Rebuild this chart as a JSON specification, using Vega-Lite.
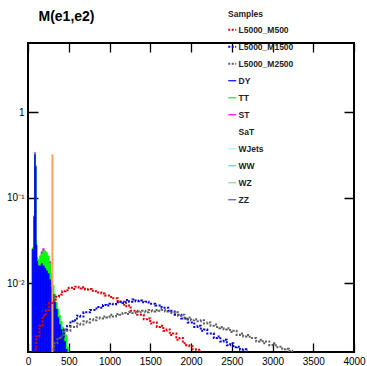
{
  "$schema": "https://vega.github.io/schema/vega-lite/v6.json",
  "width": 326,
  "height": 309,
  "autosize": {"type": "none"},
  "padding": {"left": 28, "top": 43, "right": 13, "bottom": 14},
  "background": "white",
  "config": {
    "view": {"stroke": "black", "strokeWidth": 2},
    "axis": {"domain": false, "ticks": false, "grid": true, "zindex": 1, "gridColor": "black", "gridOpacity": 1, "gridWidth": 1.3, "labelFont": "Liberation Sans", "labelFontSize": 10, "labelColor": "black", "title": null}
  },
  "datasets": {
    "bkg": [
      {"sample": "ST", "lo": 80, "hi": 90, "top": 0.34},
      {"sample": "ST", "lo": 90, "hi": 100, "top": 0.24},
      {"sample": "ST", "lo": 160, "hi": 180, "top": 0.0235},
      {"sample": "ST", "lo": 180, "hi": 200, "top": 0.0255},
      {"sample": "ST", "lo": 260, "hi": 280, "top": 0.018},
      {"sample": "TT", "lo": 50, "hi": 70, "top": 0.026},
      {"sample": "TT", "lo": 70, "hi": 80, "top": 0.062},
      {"sample": "TT", "lo": 80, "hi": 90, "top": 0.33},
      {"sample": "TT", "lo": 90, "hi": 100, "top": 0.235},
      {"sample": "TT", "lo": 100, "hi": 110, "top": 0.032},
      {"sample": "TT", "lo": 110, "hi": 120, "top": 0.02},
      {"sample": "TT", "lo": 120, "hi": 140, "top": 0.019},
      {"sample": "TT", "lo": 140, "hi": 160, "top": 0.021},
      {"sample": "TT", "lo": 160, "hi": 180, "top": 0.022},
      {"sample": "TT", "lo": 180, "hi": 200, "top": 0.024},
      {"sample": "TT", "lo": 200, "hi": 220, "top": 0.024},
      {"sample": "TT", "lo": 220, "hi": 240, "top": 0.023},
      {"sample": "TT", "lo": 240, "hi": 260, "top": 0.021},
      {"sample": "TT", "lo": 260, "hi": 280, "top": 0.017},
      {"sample": "TT", "lo": 280, "hi": 300, "top": 0.013},
      {"sample": "TT", "lo": 300, "hi": 320, "top": 0.0095},
      {"sample": "TT", "lo": 320, "hi": 340, "top": 0.0075},
      {"sample": "TT", "lo": 340, "hi": 360, "top": 0.006},
      {"sample": "TT", "lo": 360, "hi": 380, "top": 0.005},
      {"sample": "TT", "lo": 380, "hi": 400, "top": 0.0042},
      {"sample": "TT", "lo": 400, "hi": 420, "top": 0.0036},
      {"sample": "TT", "lo": 420, "hi": 440, "top": 0.0031},
      {"sample": "TT", "lo": 440, "hi": 460, "top": 0.0028},
      {"sample": "TT", "lo": 460, "hi": 480, "top": 0.0025},
      {"sample": "TT", "lo": 480, "hi": 500, "top": 0.0018},
      {"sample": "DY", "lo": 50, "hi": 70, "top": 0.025},
      {"sample": "DY", "lo": 70, "hi": 80, "top": 0.06},
      {"sample": "DY", "lo": 80, "hi": 90, "top": 0.32},
      {"sample": "DY", "lo": 90, "hi": 100, "top": 0.23},
      {"sample": "DY", "lo": 100, "hi": 110, "top": 0.028},
      {"sample": "DY", "lo": 110, "hi": 120, "top": 0.018},
      {"sample": "DY", "lo": 120, "hi": 140, "top": 0.016},
      {"sample": "DY", "lo": 140, "hi": 160, "top": 0.016},
      {"sample": "DY", "lo": 160, "hi": 180, "top": 0.017},
      {"sample": "DY", "lo": 180, "hi": 200, "top": 0.016},
      {"sample": "DY", "lo": 200, "hi": 220, "top": 0.015},
      {"sample": "DY", "lo": 220, "hi": 240, "top": 0.014},
      {"sample": "DY", "lo": 240, "hi": 260, "top": 0.013},
      {"sample": "DY", "lo": 260, "hi": 280, "top": 0.011},
      {"sample": "DY", "lo": 280, "hi": 300, "top": 0.009},
      {"sample": "DY", "lo": 300, "hi": 320, "top": 0.0075},
      {"sample": "DY", "lo": 320, "hi": 340, "top": 0.006},
      {"sample": "DY", "lo": 340, "hi": 360, "top": 0.005},
      {"sample": "DY", "lo": 360, "hi": 380, "top": 0.004},
      {"sample": "DY", "lo": 380, "hi": 400, "top": 0.0033},
      {"sample": "DY", "lo": 400, "hi": 420, "top": 0.0029},
      {"sample": "DY", "lo": 420, "hi": 440, "top": 0.0025},
      {"sample": "DY", "lo": 440, "hi": 460, "top": 0.0021},
      {"sample": "DY", "lo": 460, "hi": 480, "top": 0.0017}
    ],
    "sig": [
      {"sample": "L5000_M500", "m": 80, "v": 0.0017},
      {"sample": "L5000_M500", "m": 120, "v": 0.0024},
      {"sample": "L5000_M500", "m": 160, "v": 0.0032},
      {"sample": "L5000_M500", "m": 200, "v": 0.0042},
      {"sample": "L5000_M500", "m": 240, "v": 0.0049},
      {"sample": "L5000_M500", "m": 280, "v": 0.0059},
      {"sample": "L5000_M500", "m": 320, "v": 0.0062},
      {"sample": "L5000_M500", "m": 360, "v": 0.0070},
      {"sample": "L5000_M500", "m": 400, "v": 0.0074},
      {"sample": "L5000_M500", "m": 440, "v": 0.0081},
      {"sample": "L5000_M500", "m": 480, "v": 0.0083},
      {"sample": "L5000_M500", "m": 520, "v": 0.0089},
      {"sample": "L5000_M500", "m": 560, "v": 0.0086},
      {"sample": "L5000_M500", "m": 600, "v": 0.0091},
      {"sample": "L5000_M500", "m": 640, "v": 0.0087},
      {"sample": "L5000_M500", "m": 680, "v": 0.0090},
      {"sample": "L5000_M500", "m": 720, "v": 0.0085},
      {"sample": "L5000_M500", "m": 760, "v": 0.0086},
      {"sample": "L5000_M500", "m": 800, "v": 0.0082},
      {"sample": "L5000_M500", "m": 840, "v": 0.0081},
      {"sample": "L5000_M500", "m": 880, "v": 0.0078},
      {"sample": "L5000_M500", "m": 920, "v": 0.0076},
      {"sample": "L5000_M500", "m": 960, "v": 0.0072},
      {"sample": "L5000_M500", "m": 1000, "v": 0.0072},
      {"sample": "L5000_M500", "m": 1040, "v": 0.0067},
      {"sample": "L5000_M500", "m": 1080, "v": 0.0067},
      {"sample": "L5000_M500", "m": 1120, "v": 0.0061},
      {"sample": "L5000_M500", "m": 1160, "v": 0.0061},
      {"sample": "L5000_M500", "m": 1200, "v": 0.0054},
      {"sample": "L5000_M500", "m": 1240, "v": 0.0055},
      {"sample": "L5000_M500", "m": 1280, "v": 0.0048},
      {"sample": "L5000_M500", "m": 1320, "v": 0.0048},
      {"sample": "L5000_M500", "m": 1360, "v": 0.0043},
      {"sample": "L5000_M500", "m": 1400, "v": 0.0043},
      {"sample": "L5000_M500", "m": 1440, "v": 0.0038},
      {"sample": "L5000_M500", "m": 1480, "v": 0.0039},
      {"sample": "L5000_M500", "m": 1520, "v": 0.0034},
      {"sample": "L5000_M500", "m": 1560, "v": 0.0035},
      {"sample": "L5000_M500", "m": 1600, "v": 0.0031},
      {"sample": "L5000_M500", "m": 1640, "v": 0.0032},
      {"sample": "L5000_M500", "m": 1680, "v": 0.0028},
      {"sample": "L5000_M500", "m": 1720, "v": 0.0029},
      {"sample": "L5000_M500", "m": 1760, "v": 0.0025},
      {"sample": "L5000_M500", "m": 1800, "v": 0.0026},
      {"sample": "L5000_M500", "m": 1840, "v": 0.0022},
      {"sample": "L5000_M500", "m": 1880, "v": 0.0023},
      {"sample": "L5000_M500", "m": 1920, "v": 0.0020},
      {"sample": "L5000_M500", "m": 1960, "v": 0.0019},
      {"sample": "L5000_M500", "m": 2000, "v": 0.00185},
      {"sample": "L5000_M500", "m": 2040, "v": 0.0017},
      {"sample": "L5000_M500", "m": 2080, "v": 0.00168},
      {"sample": "L5000_M500", "m": 2120, "v": 0.0016},
      {"sample": "L5000_M1500", "m": 420, "v": 0.0024},
      {"sample": "L5000_M1500", "m": 460, "v": 0.0029},
      {"sample": "L5000_M1500", "m": 500, "v": 0.0032},
      {"sample": "L5000_M1500", "m": 540, "v": 0.0036},
      {"sample": "L5000_M1500", "m": 580, "v": 0.0037},
      {"sample": "L5000_M1500", "m": 620, "v": 0.0042},
      {"sample": "L5000_M1500", "m": 660, "v": 0.0041},
      {"sample": "L5000_M1500", "m": 700, "v": 0.0046},
      {"sample": "L5000_M1500", "m": 740, "v": 0.0046},
      {"sample": "L5000_M1500", "m": 780, "v": 0.0049},
      {"sample": "L5000_M1500", "m": 820, "v": 0.0049},
      {"sample": "L5000_M1500", "m": 860, "v": 0.0053},
      {"sample": "L5000_M1500", "m": 900, "v": 0.0052},
      {"sample": "L5000_M1500", "m": 940, "v": 0.0056},
      {"sample": "L5000_M1500", "m": 980, "v": 0.0055},
      {"sample": "L5000_M1500", "m": 1020, "v": 0.0058},
      {"sample": "L5000_M1500", "m": 1060, "v": 0.0057},
      {"sample": "L5000_M1500", "m": 1100, "v": 0.0060},
      {"sample": "L5000_M1500", "m": 1140, "v": 0.0061},
      {"sample": "L5000_M1500", "m": 1180, "v": 0.0059},
      {"sample": "L5000_M1500", "m": 1220, "v": 0.0064},
      {"sample": "L5000_M1500", "m": 1260, "v": 0.0061},
      {"sample": "L5000_M1500", "m": 1300, "v": 0.0065},
      {"sample": "L5000_M1500", "m": 1340, "v": 0.0062},
      {"sample": "L5000_M1500", "m": 1380, "v": 0.0063},
      {"sample": "L5000_M1500", "m": 1420, "v": 0.0060},
      {"sample": "L5000_M1500", "m": 1460, "v": 0.0061},
      {"sample": "L5000_M1500", "m": 1500, "v": 0.0058},
      {"sample": "L5000_M1500", "m": 1540, "v": 0.0058},
      {"sample": "L5000_M1500", "m": 1580, "v": 0.0055},
      {"sample": "L5000_M1500", "m": 1620, "v": 0.0055},
      {"sample": "L5000_M1500", "m": 1660, "v": 0.0052},
      {"sample": "L5000_M1500", "m": 1700, "v": 0.0052},
      {"sample": "L5000_M1500", "m": 1740, "v": 0.0048},
      {"sample": "L5000_M1500", "m": 1780, "v": 0.0047},
      {"sample": "L5000_M1500", "m": 1820, "v": 0.0043},
      {"sample": "L5000_M1500", "m": 1860, "v": 0.0043},
      {"sample": "L5000_M1500", "m": 1900, "v": 0.0039},
      {"sample": "L5000_M1500", "m": 1940, "v": 0.0039},
      {"sample": "L5000_M1500", "m": 1980, "v": 0.0035},
      {"sample": "L5000_M1500", "m": 2020, "v": 0.0035},
      {"sample": "L5000_M1500", "m": 2060, "v": 0.0031},
      {"sample": "L5000_M1500", "m": 2100, "v": 0.0032},
      {"sample": "L5000_M1500", "m": 2140, "v": 0.0028},
      {"sample": "L5000_M1500", "m": 2180, "v": 0.0029},
      {"sample": "L5000_M1500", "m": 2220, "v": 0.0026},
      {"sample": "L5000_M1500", "m": 2260, "v": 0.0026},
      {"sample": "L5000_M1500", "m": 2300, "v": 0.0023},
      {"sample": "L5000_M1500", "m": 2340, "v": 0.0024},
      {"sample": "L5000_M1500", "m": 2380, "v": 0.0021},
      {"sample": "L5000_M1500", "m": 2420, "v": 0.0022},
      {"sample": "L5000_M1500", "m": 2460, "v": 0.0019},
      {"sample": "L5000_M1500", "m": 2500, "v": 0.0020},
      {"sample": "L5000_M1500", "m": 2540, "v": 0.0018},
      {"sample": "L5000_M1500", "m": 2580, "v": 0.00182},
      {"sample": "L5000_M1500", "m": 2620, "v": 0.00168},
      {"sample": "L5000_M1500", "m": 2660, "v": 0.0017},
      {"sample": "L5000_M1500", "m": 2700, "v": 0.0016},
      {"sample": "L5000_M2500", "m": 300, "v": 0.0017},
      {"sample": "L5000_M2500", "m": 340, "v": 0.0020},
      {"sample": "L5000_M2500", "m": 380, "v": 0.0023},
      {"sample": "L5000_M2500", "m": 420, "v": 0.0024},
      {"sample": "L5000_M2500", "m": 460, "v": 0.0029},
      {"sample": "L5000_M2500", "m": 500, "v": 0.0028},
      {"sample": "L5000_M2500", "m": 540, "v": 0.0031},
      {"sample": "L5000_M2500", "m": 580, "v": 0.0031},
      {"sample": "L5000_M2500", "m": 620, "v": 0.0034},
      {"sample": "L5000_M2500", "m": 660, "v": 0.0033},
      {"sample": "L5000_M2500", "m": 700, "v": 0.0036},
      {"sample": "L5000_M2500", "m": 740, "v": 0.0035},
      {"sample": "L5000_M2500", "m": 780, "v": 0.0038},
      {"sample": "L5000_M2500", "m": 820, "v": 0.0037},
      {"sample": "L5000_M2500", "m": 860, "v": 0.0040},
      {"sample": "L5000_M2500", "m": 900, "v": 0.0039},
      {"sample": "L5000_M2500", "m": 940, "v": 0.0041},
      {"sample": "L5000_M2500", "m": 980, "v": 0.0040},
      {"sample": "L5000_M2500", "m": 1020, "v": 0.0043},
      {"sample": "L5000_M2500", "m": 1060, "v": 0.0041},
      {"sample": "L5000_M2500", "m": 1100, "v": 0.0044},
      {"sample": "L5000_M2500", "m": 1140, "v": 0.0043},
      {"sample": "L5000_M2500", "m": 1180, "v": 0.0045},
      {"sample": "L5000_M2500", "m": 1220, "v": 0.0044},
      {"sample": "L5000_M2500", "m": 1260, "v": 0.0046},
      {"sample": "L5000_M2500", "m": 1300, "v": 0.0045},
      {"sample": "L5000_M2500", "m": 1340, "v": 0.0047},
      {"sample": "L5000_M2500", "m": 1380, "v": 0.0046},
      {"sample": "L5000_M2500", "m": 1420, "v": 0.0048},
      {"sample": "L5000_M2500", "m": 1460, "v": 0.0046},
      {"sample": "L5000_M2500", "m": 1500, "v": 0.0049},
      {"sample": "L5000_M2500", "m": 1540, "v": 0.0047},
      {"sample": "L5000_M2500", "m": 1580, "v": 0.0049},
      {"sample": "L5000_M2500", "m": 1620, "v": 0.0048},
      {"sample": "L5000_M2500", "m": 1660, "v": 0.0049},
      {"sample": "L5000_M2500", "m": 1700, "v": 0.0047},
      {"sample": "L5000_M2500", "m": 1740, "v": 0.0048},
      {"sample": "L5000_M2500", "m": 1780, "v": 0.0045},
      {"sample": "L5000_M2500", "m": 1820, "v": 0.0046},
      {"sample": "L5000_M2500", "m": 1860, "v": 0.0042},
      {"sample": "L5000_M2500", "m": 1900, "v": 0.0043},
      {"sample": "L5000_M2500", "m": 1940, "v": 0.0039},
      {"sample": "L5000_M2500", "m": 1980, "v": 0.0040},
      {"sample": "L5000_M2500", "m": 2020, "v": 0.0037},
      {"sample": "L5000_M2500", "m": 2060, "v": 0.0038},
      {"sample": "L5000_M2500", "m": 2100, "v": 0.0036},
      {"sample": "L5000_M2500", "m": 2140, "v": 0.0037},
      {"sample": "L5000_M2500", "m": 2180, "v": 0.0034},
      {"sample": "L5000_M2500", "m": 2220, "v": 0.0035},
      {"sample": "L5000_M2500", "m": 2260, "v": 0.0032},
      {"sample": "L5000_M2500", "m": 2300, "v": 0.0033},
      {"sample": "L5000_M2500", "m": 2340, "v": 0.0030},
      {"sample": "L5000_M2500", "m": 2380, "v": 0.0031},
      {"sample": "L5000_M2500", "m": 2420, "v": 0.0029},
      {"sample": "L5000_M2500", "m": 2460, "v": 0.0030},
      {"sample": "L5000_M2500", "m": 2500, "v": 0.0027},
      {"sample": "L5000_M2500", "m": 2540, "v": 0.0028},
      {"sample": "L5000_M2500", "m": 2580, "v": 0.0025},
      {"sample": "L5000_M2500", "m": 2620, "v": 0.0026},
      {"sample": "L5000_M2500", "m": 2660, "v": 0.0024},
      {"sample": "L5000_M2500", "m": 2700, "v": 0.0025},
      {"sample": "L5000_M2500", "m": 2740, "v": 0.0023},
      {"sample": "L5000_M2500", "m": 2780, "v": 0.0023},
      {"sample": "L5000_M2500", "m": 2820, "v": 0.0021},
      {"sample": "L5000_M2500", "m": 2860, "v": 0.0022},
      {"sample": "L5000_M2500", "m": 2900, "v": 0.0020},
      {"sample": "L5000_M2500", "m": 2940, "v": 0.0021},
      {"sample": "L5000_M2500", "m": 2980, "v": 0.0019},
      {"sample": "L5000_M2500", "m": 3020, "v": 0.0020},
      {"sample": "L5000_M2500", "m": 3060, "v": 0.0018},
      {"sample": "L5000_M2500", "m": 3100, "v": 0.00182},
      {"sample": "L5000_M2500", "m": 3140, "v": 0.0017},
      {"sample": "L5000_M2500", "m": 3180, "v": 0.00172},
      {"sample": "L5000_M2500", "m": 3220, "v": 0.00163},
      {"sample": "L5000_M2500", "m": 3260, "v": 0.0016}
    ],
    "extra": [{"m": 300, "v": 0.32}]
  },
  "layer": [
    {
      "data": {"name": "bkg"},
      "transform": [{"filter": "datum.sample != 'DY'"}],
      "mark": {"type": "bar", "clip": true, "strokeWidth": 0.6},
      "encoding": {
        "x": {"field": "lo", "type": "quantitative", "scale": {"domain": [0, 4000], "nice": false, "zero": false},
          "axis": {"orient": "bottom", "values": [0,500,1000,1500,2000,2500,3000,3500,4000], "format": "d",
            "gridDash": [9, 291, 9, 100], "labelPadding": 4, "labelFlush": false}},
        "x2": {"field": "hi"},
        "y": {"field": "top", "type": "quantitative", "scale": {"type": "log", "domain": [0.00158, 6.4], "nice": false},
          "axis": {"orient": "left", "values": [0.01, 0.1, 1],
            "labelExpr": "datum.value == 1 ? '1' : datum.value == 0.1 ? '10⁻¹' : '10⁻²'",
            "gridDash": [10, 306, 10, 100], "labelPadding": 4, "labelFlush": false}},
        "y2": {"datum": 0.00158},
        "stroke": {"field": "sample", "type": "nominal", "legend": null,
          "scale": {"domain": ["L5000_M500","L5000_M1500","L5000_M2500","DY","TT","ST","SaT","WJets","WW","WZ","ZZ"],
                    "range": ["#e00000","#0000e0","#606060","#0000ff","#00ff00","#ff00ff","#ffffff","#99ffff","#00ffff","#88dd88","#5555bb"]}},
        "color": {"field": "sample", "type": "nominal",
          "scale": {"domain": ["L5000_M500","L5000_M1500","L5000_M2500","DY","TT","ST","SaT","WJets","WW","WZ","ZZ"],
                    "range": ["#e00000","#0000e0","#606060","#0000ff","#00ff00","#ff00ff","#ffffff","#99ffff","#00ffff","#88dd88","#5555bb"]},
          "legend": {"orient": "none", "legendX": 200, "legendY": -33, "padding": 0,
            "title": "Samples", "titleFont": "Liberation Sans", "titleFontSize": 8.5, "titleFontWeight": "bold", "titleColor": "#222222", "titlePadding": 7,
            "labelFont": "Liberation Sans", "labelFontSize": 8.5, "labelFontWeight": "bold", "labelColor": "#222222", "labelOffset": 2,
            "symbolType": "stroke", "symbolSize": 64, "symbolStrokeWidth": 1.2, "rowPadding": 8,
            "encode": {"symbols": {"update": {
              "stroke": {"scale": "color", "field": "value"},
              "strokeDash": {"signal": "indexof(['L5000_M500','L5000_M1500','L5000_M2500'], datum.value) >= 0 ? [2,1.5] : []"},
              "strokeWidth": {"signal": "indexof(['L5000_M500','L5000_M1500','L5000_M2500'], datum.value) >= 0 ? 2 : 1.2"}}}}}}
      }
    },
    {
      "data": {"name": "bkg"},
      "transform": [{"filter": "datum.sample == 'DY'"}],
      "mark": {"type": "bar", "clip": true, "strokeWidth": 0.6},
      "encoding": {
        "x": {"field": "lo", "type": "quantitative",
          "axis": {"orient": "bottom", "labels": false, "values": [100,200,300,400,600,700,800,900,1100,1200,1300,1400,1600,1700,1800,1900,2100,2200,2300,2400,2600,2700,2800,2900,3100,3200,3300,3400,3600,3700,3800,3900],
            "gridDash": [4.5, 300, 4.5, 100]}},
        "x2": {"field": "hi"},
        "y": {"field": "top", "type": "quantitative",
          "axis": {"orient": "left", "labels": false, "values": [0.002,0.003,0.004,0.005,0.006,0.007,0.008,0.009,0.02,0.03,0.04,0.05,0.06,0.07,0.08,0.09,0.2,0.3,0.4,0.5,0.6,0.7,0.8,0.9,2,3,4,5,6],
            "gridDash": [5, 316, 5, 100]}},
        "y2": {"datum": 0.00158},
        "stroke": {"field": "sample", "type": "nominal", "legend": null},
        "color": {"field": "sample", "type": "nominal"}
      }
    },
    {
      "data": {"name": "extra"},
      "mark": {"type": "rule", "color": "#f7a35c", "strokeWidth": 2, "clip": true},
      "encoding": {
        "x": {"field": "m", "type": "quantitative",
          "axis": {"orient": "top", "labels": false, "grid": false, "values": [0],
            "title": "M(e1,e2)", "titleFont": "Liberation Sans", "titleFontSize": 14, "titleFontWeight": "bold", "titleColor": "black",
            "titleAnchor": null, "titleAlign": "left", "titleBaseline": "alphabetic", "titleX": 10, "titleY": -23, "titleAngle": 0}},
        "y": {"field": "v", "type": "quantitative", "axis": null},
        "y2": {"datum": 0.00158}
      }
    },
    {
      "data": {"name": "sig"},
      "mark": {"type": "line", "interpolate": "step", "strokeDash": [2, 1.5], "strokeWidth": 2, "clip": true},
      "encoding": {
        "x": {"field": "m", "type": "quantitative", "axis": null},
        "y": {"field": "v", "type": "quantitative", "axis": null},
        "color": {"field": "sample", "type": "nominal"},
        "detail": {"field": "sample"}
      }
    }
  ],
  "resolve": {"axis": {"x": "independent", "y": "independent"}}
}
